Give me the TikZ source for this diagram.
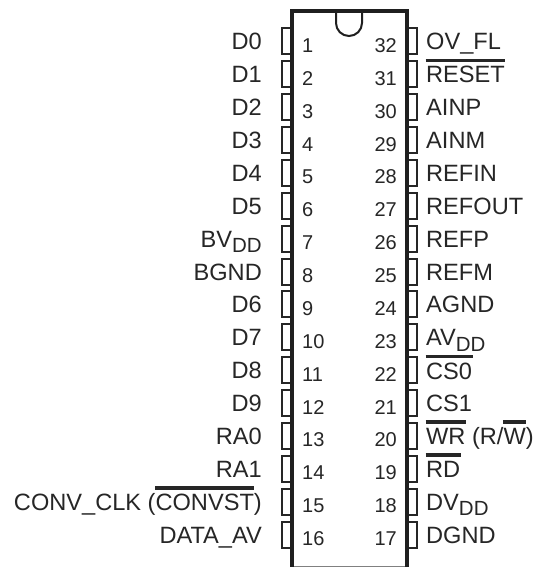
\documentclass[tikz,border=0pt]{standalone}
\usepackage{fontspec}
\setmainfont{Liberation Sans}
\newcommand{\lblsize}{\fontsize{23.6}{25}\selectfont}
\newcommand{\numsize}{\fontsize{20}{22}\selectfont}
\newcommand{\ovl}[1]{\setbox0=\hbox{#1}\rlap{\kern-0.5pt\raisebox{20.5pt}{\rule{\dimexpr\wd0+1pt\relax}{3.5pt}}}\box0\relax}
\newcommand{\ovllow}[1]{\setbox0=\hbox{#1}\rlap{\kern-0.5pt\raisebox{20.5pt}{\rule{\dimexpr\wd0+1pt\relax}{3.5pt}}}\raisebox{-1.2pt}{\box0}\relax}
\newcommand{\subdd}{\raisebox{-5.5pt}{\fontsize{20.5}{22}\selectfont DD}}
\tikzset{
 chipbody/.style={line width=3.5pt,line join=miter,color=black!88},
 chipnotch/.style={line width=2pt,color=black!88},
 pinbox/.style={draw=black!85,line width=2pt,minimum width=10pt,minimum height=26pt,inner sep=0pt},
 sigleft/.style={anchor=base east,inner sep=0pt,font=\lblsize,text=black!85},
 sigright/.style={anchor=base west,inner sep=0pt,font=\lblsize,text=black!85},
 numleft/.style={anchor=base west,inner sep=0pt,font=\numsize,text=black!85},
 numright/.style={anchor=base east,inner sep=0pt,font=\numsize,text=black!85},
}
\begin{document}
\begin{tikzpicture}[x=1pt,y=-1pt]
\useasboundingbox (0,0) rectangle (538,567);
\draw[black!50,line width=1pt] (292,566.4) -- (407,566.4);
\foreach \n/\t in {1/D0,2/D1,3/D2,4/D3,5/D4,6/D5,7/BV\subdd,8/BGND,9/D6,10/D7,11/D8,12/D9,13/RA0,14/RA1,15/{CONV\_CLK (\ovl{CONVST})},16/DATA\_AV}{
  \pgfmathsetmacro{\yc}{41.5+(\n-1)*32.87}
  \node[pinbox] (pl\n) at (287,\yc) {};
  \node[sigleft] (sl\n) at (262,\yc+8.5) {\t};
  \node[numleft] (nl\n) at (302,\yc+11) {\n};
}
\foreach \n/\m/\t in {1/32/OV\_FL,2/31/\ovl{RESET},3/30/AINP,4/29/AINM,5/28/REFIN,6/27/REFOUT,7/26/REFP,8/25/REFM,9/24/AGND,10/23/AV\subdd,11/22/\ovllow{CS0},12/21/CS1,13/20/{\ovl{WR} (R/\ovl{W})},14/19/\ovl{RD},15/18/DV\subdd,16/17/DGND}{
  \pgfmathsetmacro{\yc}{41.5+(\n-1)*32.87}
  \node[pinbox] (pr\m) at (412,\yc) {};
  \node[sigright] (sr\m) at (426,\yc+8.5) {\t};
  \node[numright] (nr\m) at (397,\yc+11) {\m};
}
\draw[chipnotch] (336,11) -- (336,23) arc[start angle=180,end angle=0,radius=13] -- (362,11);
\draw[chipbody] (292,567) -- (292,11) -- (407,11) -- (407,567);
\end{tikzpicture}
\end{document}
